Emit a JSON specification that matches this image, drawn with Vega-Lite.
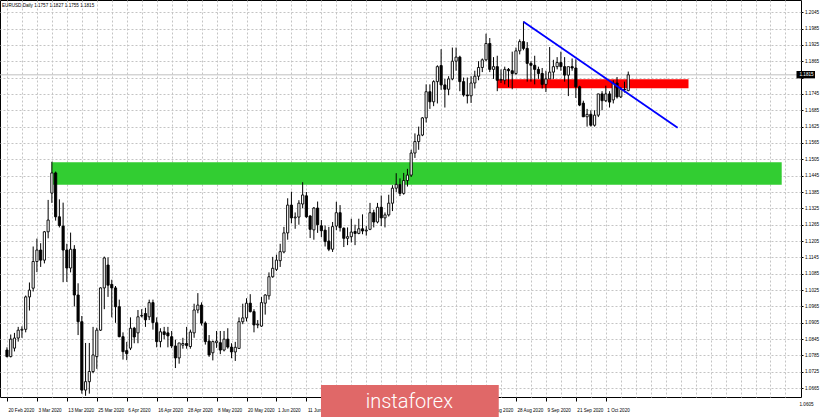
{
  "$schema": "https://vega.github.io/schema/vega-lite/v6.json",
  "width": 801,
  "height": 397,
  "autosize": {"type": "none"},
  "padding": {"left": 0, "top": 0, "right": 19, "bottom": 20},
  "background": "#ffffff",
  "config": {"view": {"stroke": "#000000", "strokeWidth": 1}, "font": "Liberation Sans"},
  "title": {"text": "EURUSD,Daily  1.1757 1.1827 1.1755 1.1815", "anchor": "start", "frame": "group", "orient": "top", "offset": -7.5, "fontSize": 4.6, "fontWeight": "normal", "font": "Liberation Sans", "color": "#000000", "dx": 2},
  "datasets": {
    "candles": [
      {"i":0,"d":"2020-02-20","o":1.0805,"h":1.0815,"l":1.0778,"c":1.0781},
      {"i":1,"d":"2020-02-21","o":1.0781,"h":1.0862,"l":1.0778,"c":1.0845},
      {"i":2,"d":"2020-02-24","o":1.0812,"h":1.0868,"l":1.0800,"c":1.0849},
      {"i":3,"d":"2020-02-25","o":1.0849,"h":1.0890,"l":1.0836,"c":1.0878},
      {"i":4,"d":"2020-02-26","o":1.0878,"h":1.0892,"l":1.0850,"c":1.0881},
      {"i":5,"d":"2020-02-27","o":1.0881,"h":1.1005,"l":1.0870,"c":1.1000},
      {"i":6,"d":"2020-02-28","o":1.1000,"h":1.1053,"l":1.0950,"c":1.1025},
      {"i":7,"d":"2020-03-02","o":1.1032,"h":1.1185,"l":1.1020,"c":1.1130},
      {"i":8,"d":"2020-03-03","o":1.1130,"h":1.1214,"l":1.1091,"c":1.1172},
      {"i":9,"d":"2020-03-04","o":1.1172,"h":1.1197,"l":1.1110,"c":1.1135},
      {"i":10,"d":"2020-03-05","o":1.1135,"h":1.1242,"l":1.1123,"c":1.1239},
      {"i":11,"d":"2020-03-06","o":1.1239,"h":1.1356,"l":1.1215,"c":1.1282},
      {"i":12,"d":"2020-03-09","o":1.1381,"h":1.1496,"l":1.1345,"c":1.1455},
      {"i":13,"d":"2020-03-10","o":1.1455,"h":1.1460,"l":1.1280,"c":1.1294},
      {"i":14,"d":"2020-03-11","o":1.1294,"h":1.1358,"l":1.1255,"c":1.1262},
      {"i":15,"d":"2020-03-12","o":1.1260,"h":1.1346,"l":1.1054,"c":1.1172},
      {"i":16,"d":"2020-03-13","o":1.1172,"h":1.1195,"l":1.1055,"c":1.1106},
      {"i":17,"d":"2020-03-16","o":1.1106,"h":1.1236,"l":1.1090,"c":1.1175},
      {"i":18,"d":"2020-03-17","o":1.1175,"h":1.1190,"l":1.0965,"c":1.1007},
      {"i":19,"d":"2020-03-18","o":1.1007,"h":1.1050,"l":1.0860,"c":1.0909},
      {"i":20,"d":"2020-03-19","o":1.0909,"h":1.0930,"l":1.0645,"c":1.0658},
      {"i":21,"d":"2020-03-20","o":1.0658,"h":1.0831,"l":1.0637,"c":1.0689},
      {"i":22,"d":"2020-03-23","o":1.0689,"h":1.0831,"l":1.0645,"c":1.0726},
      {"i":23,"d":"2020-03-24","o":1.0726,"h":1.0890,"l":1.0720,"c":1.0787},
      {"i":24,"d":"2020-03-25","o":1.0781,"h":1.0887,"l":1.0736,"c":1.0878},
      {"i":25,"d":"2020-03-26","o":1.0878,"h":1.1035,"l":1.0875,"c":1.1033},
      {"i":26,"d":"2020-03-27","o":1.1033,"h":1.1148,"l":1.0955,"c":1.1143},
      {"i":27,"d":"2020-03-30","o":1.1117,"h":1.1145,"l":1.1000,"c":1.1043},
      {"i":28,"d":"2020-03-31","o":1.1046,"h":1.1063,"l":1.0925,"c":1.1033},
      {"i":29,"d":"2020-04-01","o":1.1033,"h":1.1040,"l":1.0905,"c":1.0964},
      {"i":30,"d":"2020-04-02","o":1.0964,"h":1.0990,"l":1.0852,"c":1.0854},
      {"i":31,"d":"2020-04-03","o":1.0854,"h":1.0870,"l":1.0770,"c":1.0799},
      {"i":32,"d":"2020-04-06","o":1.0803,"h":1.0835,"l":1.0768,"c":1.0792},
      {"i":33,"d":"2020-04-07","o":1.0812,"h":1.0925,"l":1.0805,"c":1.0885},
      {"i":34,"d":"2020-04-08","o":1.0885,"h":1.0890,"l":1.0830,"c":1.0853},
      {"i":35,"d":"2020-04-09","o":1.0868,"h":1.0952,"l":1.0830,"c":1.0927},
      {"i":36,"d":"2020-04-10","o":1.0930,"h":1.0955,"l":1.0925,"c":1.0932},
      {"i":37,"d":"2020-04-13","o":1.0939,"h":1.0960,"l":1.0890,"c":1.0916},
      {"i":38,"d":"2020-04-14","o":1.0927,"h":1.0990,"l":1.0915,"c":1.0979},
      {"i":39,"d":"2020-04-15","o":1.0979,"h":1.0990,"l":1.0880,"c":1.0906},
      {"i":40,"d":"2020-04-16","o":1.0905,"h":1.0925,"l":1.0815,"c":1.0836},
      {"i":41,"d":"2020-04-17","o":1.0836,"h":1.0885,"l":1.0815,"c":1.0872},
      {"i":42,"d":"2020-04-20","o":1.0872,"h":1.0890,"l":1.0845,"c":1.0862},
      {"i":43,"d":"2020-04-21","o":1.0868,"h":1.0890,"l":1.0815,"c":1.0857},
      {"i":44,"d":"2020-04-22","o":1.0854,"h":1.0875,"l":1.0812,"c":1.0820},
      {"i":45,"d":"2020-04-23","o":1.0820,"h":1.0843,"l":1.0739,"c":1.0776},
      {"i":46,"d":"2020-04-24","o":1.0776,"h":1.0830,"l":1.0755,"c":1.0831},
      {"i":47,"d":"2020-04-27","o":1.0823,"h":1.0850,"l":1.0810,"c":1.0829},
      {"i":48,"d":"2020-04-28","o":1.0829,"h":1.0890,"l":1.0810,"c":1.0822},
      {"i":49,"d":"2020-04-29","o":1.0818,"h":1.0880,"l":1.0810,"c":1.0871},
      {"i":50,"d":"2020-04-30","o":1.0868,"h":1.0975,"l":1.0850,"c":1.0952},
      {"i":51,"d":"2020-05-01","o":1.0952,"h":1.1014,"l":1.0940,"c":1.0970},
      {"i":52,"d":"2020-05-04","o":1.0970,"h":1.0980,"l":1.0895,"c":1.0904},
      {"i":53,"d":"2020-05-05","o":1.0904,"h":1.0910,"l":1.0825,"c":1.0836},
      {"i":54,"d":"2020-05-06","o":1.0838,"h":1.0860,"l":1.0780,"c":1.0787},
      {"i":55,"d":"2020-05-07","o":1.0795,"h":1.0840,"l":1.0767,"c":1.0836},
      {"i":56,"d":"2020-05-08","o":1.0832,"h":1.0875,"l":1.0813,"c":1.0838},
      {"i":57,"d":"2020-05-11","o":1.0832,"h":1.0875,"l":1.0790,"c":1.0805},
      {"i":58,"d":"2020-05-12","o":1.0805,"h":1.0875,"l":1.0800,"c":1.0845},
      {"i":59,"d":"2020-05-13","o":1.0845,"h":1.0885,"l":1.0810,"c":1.0816},
      {"i":60,"d":"2020-05-14","o":1.0816,"h":1.0830,"l":1.0775,"c":1.0798},
      {"i":61,"d":"2020-05-15","o":1.0798,"h":1.0835,"l":1.0765,"c":1.0815},
      {"i":62,"d":"2020-05-18","o":1.0811,"h":1.0925,"l":1.0810,"c":1.0909},
      {"i":63,"d":"2020-05-19","o":1.0909,"h":1.0975,"l":1.0900,"c":1.0923},
      {"i":64,"d":"2020-05-20","o":1.0923,"h":1.0995,"l":1.0910,"c":1.0977},
      {"i":65,"d":"2020-05-21","o":1.0977,"h":1.1010,"l":1.0943,"c":1.0946},
      {"i":66,"d":"2020-05-22","o":1.0946,"h":1.0955,"l":1.0870,"c":1.0897},
      {"i":67,"d":"2020-05-25","o":1.0897,"h":1.0915,"l":1.0885,"c":1.0900},
      {"i":68,"d":"2020-05-26","o":1.0893,"h":1.1000,"l":1.0890,"c":1.0979},
      {"i":69,"d":"2020-05-27","o":1.0977,"h":1.1010,"l":1.0935,"c":1.1007},
      {"i":70,"d":"2020-05-28","o":1.1004,"h":1.1090,"l":1.0990,"c":1.1074},
      {"i":71,"d":"2020-05-29","o":1.1074,"h":1.1147,"l":1.1070,"c":1.1105},
      {"i":72,"d":"2020-06-01","o":1.1101,"h":1.1155,"l":1.1095,"c":1.1135},
      {"i":73,"d":"2020-06-02","o":1.1133,"h":1.1195,"l":1.1110,"c":1.1166},
      {"i":74,"d":"2020-06-03","o":1.1165,"h":1.1257,"l":1.1160,"c":1.1235},
      {"i":75,"d":"2020-06-04","o":1.1235,"h":1.1362,"l":1.1210,"c":1.1337},
      {"i":76,"d":"2020-06-05","o":1.1337,"h":1.1386,"l":1.1270,"c":1.1290},
      {"i":77,"d":"2020-06-08","o":1.1290,"h":1.1310,"l":1.1250,"c":1.1293},
      {"i":78,"d":"2020-06-09","o":1.1293,"h":1.1355,"l":1.1265,"c":1.1344},
      {"i":79,"d":"2020-06-10","o":1.1341,"h":1.1421,"l":1.1325,"c":1.1374},
      {"i":80,"d":"2020-06-11","o":1.1371,"h":1.1385,"l":1.1290,"c":1.1294},
      {"i":81,"d":"2020-06-12","o":1.1297,"h":1.1300,"l":1.1216,"c":1.1248},
      {"i":82,"d":"2020-06-15","o":1.1246,"h":1.1330,"l":1.1210,"c":1.1326},
      {"i":83,"d":"2020-06-16","o":1.1326,"h":1.1350,"l":1.1235,"c":1.1265},
      {"i":84,"d":"2020-06-17","o":1.1261,"h":1.1282,"l":1.1220,"c":1.1243},
      {"i":85,"d":"2020-06-18","o":1.1245,"h":1.1262,"l":1.1185,"c":1.1203},
      {"i":86,"d":"2020-06-19","o":1.1205,"h":1.1257,"l":1.1168,"c":1.1175},
      {"i":87,"d":"2020-06-22","o":1.1175,"h":1.1275,"l":1.1165,"c":1.1258},
      {"i":88,"d":"2020-06-23","o":1.1260,"h":1.1349,"l":1.1245,"c":1.1309},
      {"i":89,"d":"2020-06-24","o":1.1309,"h":1.1337,"l":1.1240,"c":1.1254},
      {"i":90,"d":"2020-06-25","o":1.1252,"h":1.1255,"l":1.1183,"c":1.1215},
      {"i":91,"d":"2020-06-26","o":1.1215,"h":1.1255,"l":1.1190,"c":1.1221},
      {"i":92,"d":"2020-06-29","o":1.1221,"h":1.1287,"l":1.1200,"c":1.1238},
      {"i":93,"d":"2020-06-30","o":1.1240,"h":1.1265,"l":1.1190,"c":1.1233},
      {"i":94,"d":"2020-07-01","o":1.1233,"h":1.1287,"l":1.1230,"c":1.1250},
      {"i":95,"d":"2020-07-02","o":1.1250,"h":1.1303,"l":1.1230,"c":1.1242},
      {"i":96,"d":"2020-07-03","o":1.1242,"h":1.1260,"l":1.1225,"c":1.1245},
      {"i":97,"d":"2020-07-06","o":1.1248,"h":1.1345,"l":1.1245,"c":1.1309},
      {"i":98,"d":"2020-07-07","o":1.1309,"h":1.1320,"l":1.1255,"c":1.1275},
      {"i":99,"d":"2020-07-08","o":1.1275,"h":1.1345,"l":1.1270,"c":1.1329},
      {"i":100,"d":"2020-07-09","o":1.1329,"h":1.1372,"l":1.1260,"c":1.1290},
      {"i":101,"d":"2020-07-10","o":1.1290,"h":1.1310,"l":1.1255,"c":1.1301},
      {"i":102,"d":"2020-07-13","o":1.1301,"h":1.1375,"l":1.1295,"c":1.1344},
      {"i":103,"d":"2020-07-14","o":1.1344,"h":1.1410,"l":1.1315,"c":1.1399},
      {"i":104,"d":"2020-07-15","o":1.1399,"h":1.1454,"l":1.1385,"c":1.1413},
      {"i":105,"d":"2020-07-16","o":1.1412,"h":1.1435,"l":1.1370,"c":1.1380},
      {"i":106,"d":"2020-07-17","o":1.1380,"h":1.1455,"l":1.1375,"c":1.1427},
      {"i":107,"d":"2020-07-20","o":1.1427,"h":1.1470,"l":1.1405,"c":1.1447},
      {"i":108,"d":"2020-07-21","o":1.1447,"h":1.1540,"l":1.1440,"c":1.1528},
      {"i":109,"d":"2020-07-22","o":1.1528,"h":1.1600,"l":1.1510,"c":1.1570},
      {"i":110,"d":"2020-07-23","o":1.1570,"h":1.1625,"l":1.1540,"c":1.1594},
      {"i":111,"d":"2020-07-24","o":1.1594,"h":1.1660,"l":1.1590,"c":1.1657},
      {"i":112,"d":"2020-07-27","o":1.1657,"h":1.1780,"l":1.1640,"c":1.1753},
      {"i":113,"d":"2020-07-28","o":1.1753,"h":1.1780,"l":1.1690,"c":1.1716},
      {"i":114,"d":"2020-07-29","o":1.1716,"h":1.1795,"l":1.1700,"c":1.1790},
      {"i":115,"d":"2020-07-30","o":1.1790,"h":1.1850,"l":1.1710,"c":1.1845},
      {"i":116,"d":"2020-07-31","o":1.1849,"h":1.1909,"l":1.1760,"c":1.1778},
      {"i":117,"d":"2020-08-03","o":1.1778,"h":1.1800,"l":1.1695,"c":1.1762},
      {"i":118,"d":"2020-08-04","o":1.1762,"h":1.1810,"l":1.1740,"c":1.1800},
      {"i":119,"d":"2020-08-05","o":1.1800,"h":1.1915,"l":1.1795,"c":1.1865},
      {"i":120,"d":"2020-08-06","o":1.1865,"h":1.1915,"l":1.1830,"c":1.1880},
      {"i":121,"d":"2020-08-07","o":1.1880,"h":1.1885,"l":1.1755,"c":1.1790},
      {"i":122,"d":"2020-08-10","o":1.1790,"h":1.1805,"l":1.1735,"c":1.1741},
      {"i":123,"d":"2020-08-11","o":1.1741,"h":1.1805,"l":1.1710,"c":1.1738},
      {"i":124,"d":"2020-08-12","o":1.1738,"h":1.1810,"l":1.1712,"c":1.1785},
      {"i":125,"d":"2020-08-13","o":1.1785,"h":1.1830,"l":1.1765,"c":1.1810},
      {"i":126,"d":"2020-08-14","o":1.1810,"h":1.1865,"l":1.1795,"c":1.1842},
      {"i":127,"d":"2020-08-17","o":1.1842,"h":1.1875,"l":1.1825,"c":1.1870},
      {"i":128,"d":"2020-08-18","o":1.1870,"h":1.1966,"l":1.1865,"c":1.1930},
      {"i":129,"d":"2020-08-19","o":1.1930,"h":1.1950,"l":1.1825,"c":1.1835},
      {"i":130,"d":"2020-08-20","o":1.1835,"h":1.1880,"l":1.1800,"c":1.1845},
      {"i":131,"d":"2020-08-21","o":1.1845,"h":1.1885,"l":1.1755,"c":1.1795},
      {"i":132,"d":"2020-08-24","o":1.1795,"h":1.1835,"l":1.1785,"c":1.1798},
      {"i":133,"d":"2020-08-25","o":1.1795,"h":1.1845,"l":1.1780,"c":1.1835},
      {"i":134,"d":"2020-08-26","o":1.1835,"h":1.1840,"l":1.1770,"c":1.1830},
      {"i":135,"d":"2020-08-27","o":1.1830,"h":1.1900,"l":1.1762,"c":1.1820},
      {"i":136,"d":"2020-08-28","o":1.1820,"h":1.1915,"l":1.1815,"c":1.1903},
      {"i":137,"d":"2020-08-31","o":1.1903,"h":1.1945,"l":1.1890,"c":1.1937},
      {"i":138,"d":"2020-09-01","o":1.1937,"h":1.2011,"l":1.1905,"c":1.1912},
      {"i":139,"d":"2020-09-02","o":1.1912,"h":1.1935,"l":1.1790,"c":1.1857},
      {"i":140,"d":"2020-09-03","o":1.1857,"h":1.1865,"l":1.1790,"c":1.1850},
      {"i":141,"d":"2020-09-04","o":1.1850,"h":1.1885,"l":1.1780,"c":1.1835},
      {"i":142,"d":"2020-09-07","o":1.1835,"h":1.1845,"l":1.1800,"c":1.1820},
      {"i":143,"d":"2020-09-08","o":1.1820,"h":1.1840,"l":1.1765,"c":1.1780},
      {"i":144,"d":"2020-09-09","o":1.1780,"h":1.1830,"l":1.1752,"c":1.1800},
      {"i":145,"d":"2020-09-10","o":1.1800,"h":1.1917,"l":1.1800,"c":1.1825},
      {"i":146,"d":"2020-09-11","o":1.1825,"h":1.1870,"l":1.1800,"c":1.1845},
      {"i":147,"d":"2020-09-14","o":1.1845,"h":1.1880,"l":1.1835,"c":1.1860},
      {"i":148,"d":"2020-09-15","o":1.1860,"h":1.1900,"l":1.1830,"c":1.1845},
      {"i":149,"d":"2020-09-16","o":1.1845,"h":1.1880,"l":1.1790,"c":1.1814},
      {"i":150,"d":"2020-09-17","o":1.1814,"h":1.1835,"l":1.1737,"c":1.1845},
      {"i":151,"d":"2020-09-18","o":1.1845,"h":1.1875,"l":1.1830,"c":1.1840},
      {"i":152,"d":"2020-09-21","o":1.1840,"h":1.1872,"l":1.1730,"c":1.1771},
      {"i":153,"d":"2020-09-22","o":1.1771,"h":1.1775,"l":1.1700,"c":1.1704},
      {"i":154,"d":"2020-09-23","o":1.1711,"h":1.1720,"l":1.1660,"c":1.1661},
      {"i":155,"d":"2020-09-24","o":1.1661,"h":1.1690,"l":1.1625,"c":1.1670},
      {"i":156,"d":"2020-09-25","o":1.1670,"h":1.1685,"l":1.1625,"c":1.1630},
      {"i":157,"d":"2020-09-28","o":1.1630,"h":1.1685,"l":1.1625,"c":1.1667},
      {"i":158,"d":"2020-09-29","o":1.1667,"h":1.1745,"l":1.1660,"c":1.1745},
      {"i":159,"d":"2020-09-30","o":1.1745,"h":1.1755,"l":1.1685,"c":1.1720},
      {"i":160,"d":"2020-10-01","o":1.1720,"h":1.1775,"l":1.1715,"c":1.1745},
      {"i":161,"d":"2020-10-02","o":1.1745,"h":1.1755,"l":1.1695,"c":1.1715},
      {"i":162,"d":"2020-10-05","o":1.1723,"h":1.1795,"l":1.1710,"c":1.1785},
      {"i":163,"d":"2020-10-06","o":1.1785,"h":1.1807,"l":1.1728,"c":1.1734},
      {"i":164,"d":"2020-10-07","o":1.1734,"h":1.1770,"l":1.1730,"c":1.1762},
      {"i":165,"d":"2020-10-08","o":1.1762,"h":1.1790,"l":1.1750,"c":1.1760},
      {"i":166,"d":"2020-10-09","o":1.1757,"h":1.1827,"l":1.1755,"c":1.1815}
    ],
    "zones": [
      {"zone":"support","i0":11.95,"i1":207.0,"lo":1.1412,"hi":1.1494},
      {"zone":"resistance","i0":131.0,"i1":182.1,"lo":1.1766,"hi":1.1799}
    ],
    "trend": [
      {"i":138.0,"p":1.2010},
      {"i":179.2,"p":1.1621}
    ],
    "last": [
      {"p":1.1815,"label":"1.1815"}
    ]
  },
  "layer": [
    {
      "data": {"name": "zones"},
      "mark": {"type": "rect", "clip": true},
      "encoding": {
        "x": {"field": "i0", "type": "quantitative", "scale": {"domain": [-0.528, 210.82], "nice": false, "zero": false},
          "axis": {"title": null, "tickCount": 500, "values": [0,4,8,12,16,20,24,28,32,36,40,44,48,52,56,60,64,68,72,76,80,84,88,92,96,100,104,108,112,116,120,124,128,132,136,140,144,148,152,156,160,164,168,172,176,180,184,188,192,196,200,204,208],
            "grid": true, "gridColor": "#c4c4c4", "gridDash": [2,2], "gridWidth": 1,
            "domain": false, "tickSize": 4, "tickColor": "#000000",
            "tickOpacity": {"condition": {"test": "datum.value % 8 == 0 && datum.value <= 160", "value": 1}, "value": 0},
            "labelExpr": "(datum.value % 8 == 0 && datum.value <= 160 && (datum.value < 88 || datum.value > 120)) ? ['20 Feb 2020','3 Mar 2020','13 Mar 2020','25 Mar 2020','6 Apr 2020','16 Apr 2020','28 Apr 2020','8 May 2020','20 May 2020','1 Jun 2020','11 Jun 2020','23 Jun 2020','3 Jul 2020','15 Jul 2020','27 Jul 2020','6 Aug 2020','18 Aug 2020','28 Aug 2020','9 Sep 2020','21 Sep 2020','1 Oct 2020'][datum.value / 8] : ''",
            "labelAlign": "left", "labelBaseline": "top", "labelPadding": 6, "labelOffset": 1,
            "labelFontSize": 4.6, "labelFont": "Liberation Sans", "labelColor": "#000000",
            "labelOverlap": false, "labelFlush": false, "labelBound": false}},
        "x2": {"field": "i1"},
        "y": {"field": "lo", "type": "quantitative", "scale": {"domain": [1.06327, 1.20896], "nice": false, "zero": false},
          "axis": {"title": null, "orient": "right", "tickCount": 500,
            "values": [1.0665,1.0725,1.0785,1.0845,1.0905,1.0965,1.1025,1.1085,1.1145,1.1205,1.1265,1.1325,1.1385,1.1445,1.1505,1.1565,1.1625,1.1685,1.1745,1.1805,1.1865,1.1925,1.1985,1.2045],
            "labelExpr": "abs(datum.value - 1.1805) < 0.0001 ? '' : format(datum.value, '.4f')",
            "grid": true, "gridColor": "#c4c4c4", "gridDash": [2,2], "gridWidth": 1,
            "domain": false, "tickSize": 2, "tickColor": "#000000", "labelPadding": 1.5,
            "labelFontSize": 4.6, "labelFont": "Liberation Sans", "labelColor": "#000000",
            "labelOverlap": false, "labelFlush": false, "labelBound": false}},
        "y2": {"field": "hi"},
        "color": {"field": "zone", "type": "nominal", "scale": {"domain": ["support", "resistance"], "range": ["#32cd32", "#ff0000"]}, "legend": null}
      }
    },
    {
      "data": {"name": "last"},
      "mark": {"type": "rule", "color": "#c0c0c0", "strokeWidth": 1},
      "encoding": {
        "y": {"field": "p", "type": "quantitative", "axis": {"title": null}}
      }
    },
    {
      "data": {"name": "candles"},
      "mark": {"type": "rule", "color": "#000000", "strokeWidth": 1, "clip": true},
      "encoding": {
        "x": {"field": "i", "type": "quantitative", "axis": {"title": null}},
        "y": {"field": "l", "type": "quantitative", "axis": {"title": null}},
        "y2": {"field": "h"}
      }
    },
    {
      "data": {"name": "candles"},
      "mark": {"type": "bar", "size": 2.2, "stroke": "#000000", "strokeWidth": 0.9, "clip": true},
      "encoding": {
        "x": {"field": "i", "type": "quantitative", "axis": {"title": null}},
        "y": {"field": "o", "type": "quantitative", "axis": {"title": null}},
        "y2": {"field": "c"},
        "fill": {"condition": {"test": "datum.c >= datum.o", "value": "#ffffff"}, "value": "#000000"}
      }
    },
    {
      "data": {"name": "trend"},
      "mark": {"type": "line", "color": "#0000ff", "strokeWidth": 1.8, "clip": true},
      "encoding": {
        "x": {"field": "i", "type": "quantitative", "axis": {"title": null}},
        "y": {"field": "p", "type": "quantitative", "axis": {"title": null}}
      }
    },
    {
      "data": {"name": "last"},
      "mark": {"type": "rect", "color": "#000000", "clip": false},
      "encoding": {
        "x": {"datum": 210.95},
        "x2": {"datum": 215.9},
        "y": {"datum": 1.1829},
        "y2": {"datum": 1.1802}
      }
    },
    {
      "data": {"name": "last"},
      "mark": {"type": "text", "color": "#ffffff", "fontSize": 4.6, "font": "Liberation Sans", "align": "left", "baseline": "middle", "dx": 3.5, "clip": false},
      "encoding": {
        "x": {"datum": 210.82},
        "y": {"field": "p", "type": "quantitative", "axis": {"title": null}},
        "text": {"field": "label"}
      }
    },
    {
      "data": {"values": [{"label": "1.0605"}]},
      "mark": {"type": "text", "color": "#000000", "fontSize": 4.6, "font": "Liberation Sans", "align": "left", "baseline": "middle", "dx": 3.5, "clip": false},
      "encoding": {
        "x": {"datum": 210.82},
        "y": {"datum": 1.0605},
        "text": {"field": "label"}
      }
    },
    {
      "data": {"values": [{"brand": "instaforex"}]},
      "mark": {"type": "rect", "color": "#e06868", "clip": false},
      "encoding": {
        "x": {"datum": 83.9},
        "x2": {"datum": 131.4},
        "y": {"datum": 1.06768},
        "y2": {"datum": 1.05593}
      }
    },
    {
      "data": {"values": [{"brand": "instaforex"}]},
      "mark": {"type": "text", "color": "#ffffff", "fontSize": 20, "font": "Roboto", "fontWeight": 300, "align": "center", "baseline": "middle", "clip": false},
      "encoding": {
        "x": {"datum": 107.5},
        "y": {"datum": 1.06144},
        "text": {"field": "brand"}
      }
    }
  ]
}
